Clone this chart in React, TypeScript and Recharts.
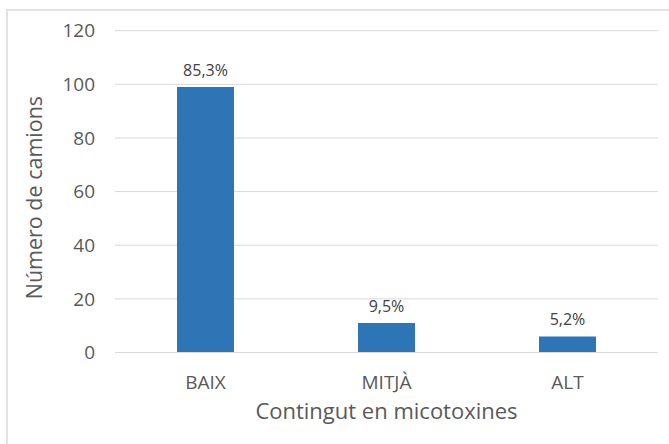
import { BarChart, Bar, XAxis, YAxis, CartesianGrid, LabelList, Label } from 'recharts'

const categories = ['BAIX', 'MITJÀ', 'ALT']
const trucks = [99, 11, 6]
const yTicks = [0, 20, 40, 60, 80, 100, 120]

const total = trucks.reduce((a, b) => a + b, 0)

const data = categories.map((c, i) => ({
  name: c,
  value: trucks[i],
  pct: (trucks[i] / total * 100).toFixed(1).replace('.', ',') + '%',
}))

const FONT = '"Open Sans", sans-serif'

function YTitle({ viewBox }: any) {
  if (!viewBox) return null
  const x = viewBox.x + 19
  const y = viewBox.y + viewBox.height / 2 + 6
  return (
    <text
      x={x}
      y={y}
      transform={`rotate(-90, ${x}, ${y})`}
      textAnchor="middle"
      dominantBaseline="central"
      fill="#595959"
      fontSize={21.5}
      fontFamily={FONT}
    >
      Número de camions
    </text>
  )
}

export default function App() {
  return (
    <div style={{ position: 'absolute', left: 0, top: 0, width: 669, height: 444, background: '#fff', overflow: 'hidden', fontFamily: FONT }}>
      {/* chart frame, runs off the right and bottom edge */}
      <div style={{ position: 'absolute', left: 6, top: 9, width: 720, height: 520, border: '2px solid #E2E2E2', boxSizing: 'border-box' }} />
      <div style={{ position: 'absolute', left: 0, top: 0 }}>
        <BarChart
          width={669}
          height={444}
          data={data}
          margin={{ top: 30.7, right: 11, bottom: 25, left: 15 }}
        >
          <CartesianGrid vertical={false} stroke="#D9D9D9" />
          <XAxis
            dataKey="name"
            height={66.5}
            tickLine={false}
            tickSize={0}
            tickMargin={23}
            axisLine={{ stroke: '#D9D9D9' }}
            tick={{ fill: '#595959', fontSize: 19, fontFamily: FONT }}
          >
            <Label
              value="Contingut en micotoxines"
              position="insideBottom"
              offset={0}
              fill="#595959"
              fontSize={22}
              fontFamily={FONT}
            />
          </XAxis>
          <YAxis
            width={100}
            domain={[0, 120]}
            ticks={yTicks}
            tickLine={false}
            axisLine={false}
            tickSize={0}
            tickMargin={20}
            tick={{ fill: '#595959', fontSize: 19, fontFamily: FONT }}
            label={<YTitle />}
          />
          <Bar dataKey="value" fill="#2E75B6" barSize={57} isAnimationActive={false}>
            <LabelList dataKey="pct" position="top" offset={11} fill="#404040" fontSize={16} fontFamily={FONT} />
          </Bar>
        </BarChart>
      </div>
    </div>
  )
}
